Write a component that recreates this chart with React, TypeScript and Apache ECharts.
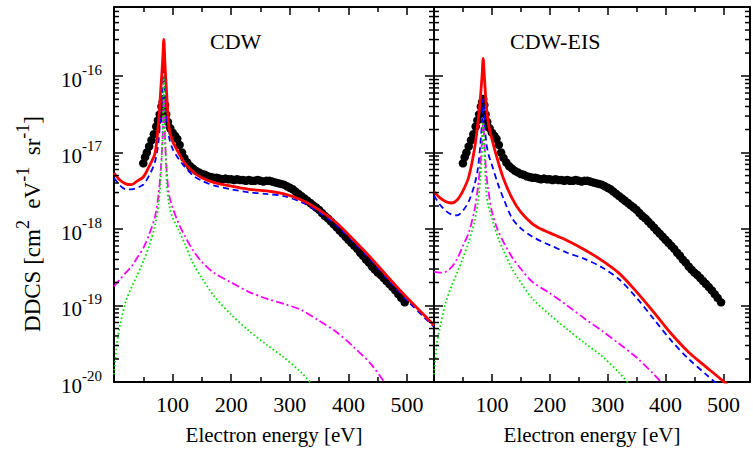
import React, { useEffect, useRef } from "react";
import * as echarts from "echarts";

const FONT = "Liberation Serif";

// ---------- data (electron energy in eV, DDCS in cm^2 eV^-1 sr^-1) ----------
const expEnergy = [50, 53, 56, 60, 64, 68, 72, 75, 78, 81, 83, 85, 87, 89, 92, 96, 100, 104, 108, 112, 116, 120, 125, 130, 135, 140, 145, 150, 155, 160, 165, 170, 175, 180, 185, 190, 195, 200, 205, 210, 215, 220, 225, 230, 235, 240, 245, 250, 255, 260, 265, 270, 275, 280, 285, 290, 295, 300, 305, 310, 315, 320, 325, 330, 335, 340, 345, 350, 355, 360, 365, 370, 375, 380, 385, 390, 395, 400, 405, 410, 415, 420, 425, 430, 435, 440, 445, 450, 455, 460, 465, 470, 475, 480, 485, 490, 496];
const expValues = [7.24e-18, 8.71e-18, 1.0e-17, 1.2e-17, 1.45e-17, 1.74e-17, 2.19e-17, 2.63e-17, 3.16e-17, 3.98e-17, 4.57e-17, 5.01e-17, 4.17e-17, 3.16e-17, 2.51e-17, 2.09e-17, 1.82e-17, 1.66e-17, 1.51e-17, 1.26e-17, 1.0e-17, 8.51e-18, 7.41e-18, 6.61e-18, 6.17e-18, 5.75e-18, 5.5e-18, 5.25e-18, 5.13e-18, 4.9e-18, 4.79e-18, 4.68e-18, 4.68e-18, 4.57e-18, 4.47e-18, 4.57e-18, 4.47e-18, 4.47e-18, 4.37e-18, 4.47e-18, 4.37e-18, 4.37e-18, 4.27e-18, 4.37e-18, 4.27e-18, 4.27e-18, 4.37e-18, 4.27e-18, 4.17e-18, 4.27e-18, 4.27e-18, 4.17e-18, 4.07e-18, 3.98e-18, 3.89e-18, 3.8e-18, 3.63e-18, 3.47e-18, 3.31e-18, 3.09e-18, 2.88e-18, 2.69e-18, 2.51e-18, 2.34e-18, 2.19e-18, 2.04e-18, 1.91e-18, 1.78e-18, 1.62e-18, 1.48e-18, 1.38e-18, 1.26e-18, 1.15e-18, 1.05e-18, 9.55e-19, 8.71e-19, 7.94e-19, 7.24e-19, 6.61e-19, 6.03e-19, 5.5e-19, 4.9e-19, 4.47e-19, 3.98e-19, 3.63e-19, 3.24e-19, 2.95e-19, 2.69e-19, 2.51e-19, 2.29e-19, 2.09e-19, 1.91e-19, 1.74e-19, 1.58e-19, 1.41e-19, 1.26e-19, 1.1e-19];

const theoryEnergy = [0, 10, 20, 30, 40, 50, 60, 70, 76, 80, 83, 85, 87, 90, 94, 100, 110, 120, 135, 150, 170, 200, 230, 260, 290, 320, 350, 380, 410, 440, 470, 500, 530, 546];

// CDW panel
const cdwTotal = [5.37e-18, 4.37e-18, 3.89e-18, 3.8e-18, 4.27e-18, 4.79e-18, 6.61e-18, 9.77e-18, 2.51e-17, 7.08e-17, 1.58e-16, 3.02e-16, 1.41e-16, 5.62e-17, 2.09e-17, 1.41e-17, 1.0e-17, 7.41e-18, 5.62e-18, 4.68e-18, 4.07e-18, 3.63e-18, 3.31e-18, 3.16e-18, 2.88e-18, 2.4e-18, 1.78e-18, 1.2e-18, 7.08e-19, 4.07e-19, 2.24e-19, 1.26e-19, 7.41e-20, 5.5e-20];
const cdwMain = [4.68e-18, 3.72e-18, 3.31e-18, 3.31e-18, 3.47e-18, 3.8e-18, 5.01e-18, 7.59e-18, 1.41e-17, 3.55e-17, 7.08e-17, 1.41e-16, 6.31e-17, 2.82e-17, 1.58e-17, 1.12e-17, 8.32e-18, 6.61e-18, 5.01e-18, 4.27e-18, 3.72e-18, 3.31e-18, 3.02e-18, 2.88e-18, 2.69e-18, 2.24e-18, 1.66e-18, 1.12e-18, 6.61e-19, 3.8e-19, 2.09e-19, 1.17e-19, 6.92e-20, 5.25e-20];
const cdwSecondEnergy = [0, 10, 20, 30, 40, 50, 60, 70, 76, 80, 83, 85, 87, 90, 94, 100, 110, 120, 135, 150, 170, 200, 230, 260, 290, 320, 350, 380, 410, 440, 470];
const cdwSecond = [1.78e-19, 2.19e-19, 2.69e-19, 3.24e-19, 4.27e-19, 5.62e-19, 8.51e-19, 1.45e-18, 2.82e-18, 6.31e-18, 1.58e-17, 5.62e-17, 1.58e-17, 5.62e-18, 2.82e-18, 1.91e-18, 1.2e-18, 8.32e-19, 5.25e-19, 3.72e-19, 2.69e-19, 2.0e-19, 1.51e-19, 1.23e-19, 1.05e-19, 8.71e-20, 6.31e-20, 4.47e-20, 2.82e-20, 1.66e-20, 7.94e-21];
const cdwThirdEnergy = [0, 5, 10, 20, 30, 40, 50, 60, 70, 76, 80, 83, 85, 87, 90, 94, 100, 110, 120, 135, 150, 170, 200, 230, 260, 290, 320, 340];
const cdwThird = [1.26e-20, 3.16e-20, 5.37e-20, 1.12e-19, 1.74e-19, 2.51e-19, 3.8e-19, 6.03e-19, 1.12e-18, 2.09e-18, 5.01e-18, 2.0e-17, 1.0e-16, 2.0e-17, 3.98e-18, 2.09e-18, 1.41e-18, 9.77e-19, 6.61e-19, 3.55e-19, 2.29e-19, 1.35e-19, 7.59e-20, 4.68e-20, 3.09e-20, 2.09e-20, 1.32e-20, 8.91e-21];

// CDW-EIS panel
const eisEnergy = [0, 10, 20, 30, 40, 50, 60, 70, 76, 80, 83, 85, 87, 90, 94, 100, 110, 120, 135, 150, 170, 185, 200, 230, 260, 290, 320, 350, 380, 410, 440, 470, 500, 530, 546];
const eisTotal = [3.09e-18, 2.57e-18, 2.29e-18, 2.19e-18, 2.4e-18, 3.16e-18, 4.79e-18, 1.12e-17, 2.51e-17, 5.01e-17, 1.0e-16, 1.7e-16, 1.0e-16, 4.47e-17, 2.4e-17, 1.51e-17, 7.94e-18, 4.57e-18, 2.51e-18, 1.66e-18, 1.17e-18, 1.0e-18, 8.91e-19, 7.08e-19, 5.37e-19, 3.89e-19, 2.63e-19, 1.51e-19, 8.13e-20, 4.27e-20, 2.45e-20, 1.58e-20, 1.02e-20, 6.31e-21, 5.0e-21];
const eisMain = [2.75e-18, 2.09e-18, 1.74e-18, 1.55e-18, 1.51e-18, 1.74e-18, 2.29e-18, 3.8e-18, 6.31e-18, 1.26e-17, 2.51e-17, 5.01e-17, 2.82e-17, 1.41e-17, 9.55e-18, 6.92e-18, 3.98e-18, 2.51e-18, 1.38e-18, 1.02e-18, 7.94e-19, 6.92e-19, 6.17e-19, 4.9e-19, 4.07e-19, 3.16e-19, 2.19e-19, 1.26e-19, 6.61e-20, 3.47e-20, 2.0e-20, 1.26e-20, 7.94e-21, 5.0e-21, 4.0e-21];
const eisSecondEnergy = [0, 10, 20, 30, 40, 50, 60, 70, 76, 80, 83, 85, 87, 90, 94, 100, 110, 120, 135, 150, 170, 200, 230, 260, 290, 320, 350, 380, 400];
const eisSecond = [2.75e-19, 2.69e-19, 2.75e-19, 3.16e-19, 4.07e-19, 6.03e-19, 8.91e-19, 1.78e-18, 3.55e-18, 7.08e-18, 1.41e-17, 2.51e-17, 1.41e-17, 5.62e-18, 3.16e-18, 1.7e-18, 9.77e-19, 6.76e-19, 4.27e-19, 3.02e-19, 2.04e-19, 1.45e-19, 1.0e-19, 6.76e-20, 4.68e-20, 3.16e-20, 2.09e-20, 1.26e-20, 8.51e-21];
const eisThirdEnergy = [0, 5, 10, 20, 30, 40, 50, 60, 70, 76, 80, 83, 85, 87, 90, 94, 100, 110, 120, 135, 150, 170, 200, 230, 260, 290, 320, 340];
const eisThird = [1.26e-20, 3.16e-20, 5.01e-20, 1.07e-19, 1.78e-19, 2.69e-19, 4.17e-19, 6.76e-19, 1.26e-18, 2.24e-18, 4.47e-18, 1.12e-17, 2.51e-17, 1.12e-17, 3.16e-18, 2.0e-18, 1.38e-18, 7.94e-19, 5.25e-19, 3.02e-19, 2.0e-19, 1.23e-19, 7.59e-20, 4.9e-20, 3.24e-20, 2.19e-20, 1.32e-20, 8.91e-21];

const panelTitles = ["CDW", "CDW-EIS"];
const xAxisTitle = "Electron energy [eV]";
const xMin = 0;
const xMax = 546;
const yMin = 1e-20;
const yMax = 8e-16;
const minorMantissas = [2, 3, 4, 5, 6, 7, 8, 9];
const decades = [-20, -19, -18, -17, -16];

function zip(xs: number[], ys: number[]) {
  return xs.map((x, i) => [x, ys[i]]);
}

export default function App() {
  const ref = useRef<HTMLDivElement>(null);

  useEffect(() => {
    if (!ref.current) return;
    const chart = echarts.init(ref.current, null, { renderer: "svg" });

    const minorTicks: number[][] = [];
    decades.forEach((d) =>
      minorMantissas.forEach((m) => {
        const v = m * Math.pow(10, d);
        if (v < yMax) minorTicks.push([xMin, v]);
      })
    );

    const grids = [
      { left: 114, top: 7, width: 320, height: 375 },
      { left: 434, top: 7, width: 320, height: 375 },
    ];

    const tickStyle = { color: "#000", width: 1.5 };
    const axisLineStyle = { color: "#000", width: 2 };

    const xAxes: any[] = [];
    const yAxes: any[] = [];
    [0, 1].forEach((g) => {
      const base = {
        type: "value",
        gridIndex: g,
        min: xMin,
        max: xMax,
        interval: 100,
        splitLine: { show: false },
        axisLine: { show: true, onZero: false, lineStyle: axisLineStyle },
        axisTick: { show: true, inside: true, length: 8, lineStyle: tickStyle },
        minorTick: { show: true, splitNumber: 2, length: 5, lineStyle: tickStyle },
      };
      xAxes.push({
        ...base,
        position: "bottom",
        name: xAxisTitle,
        nameLocation: "middle",
        nameGap: 42,
        nameTextStyle: { fontFamily: FONT, fontSize: 21, color: "#000" },
        axisLabel: {
          show: true,
          margin: 11,
          fontFamily: FONT,
          fontSize: 22,
          color: "#000",
          formatter: (v: number) => (v > 0 && v % 100 === 0 ? String(v) : ""),
        },
      });
      xAxes.push({ ...base, position: "top", axisLabel: { show: false } });

      const ybase = {
        type: "log",
        logBase: 10,
        gridIndex: g,
        min: yMin,
        max: yMax,
        splitLine: { show: false },
        axisLine: { show: true, onZero: false, lineStyle: axisLineStyle },
        axisTick: { show: true, inside: true, length: 9, lineStyle: tickStyle },
        minorTick: { show: false },
      };
      yAxes.push({
        ...ybase,
        position: "left",
        axisLabel: {
          show: g === 0,
          margin: 12,
          formatter: (v: number) => {
            const l = Math.log10(v);
            const e = Math.round(l);
            if (Math.abs(l - e) > 1e-6) return "";
            return `{b|10}{s|${e}}`;
          },
          rich: {
            b: { fontFamily: FONT, fontSize: 21, color: "#000", verticalAlign: "bottom", lineHeight: 28 },
            s: { fontFamily: FONT, fontSize: 15, color: "#000", verticalAlign: "top", lineHeight: 28 },
          },
        },
      });
      yAxes.push({ ...ybase, position: "right", axisLabel: { show: false } });
    });

    const lineSeries = (
      name: string,
      g: number,
      data: number[][],
      color: string,
      width: number,
      type: any,
      z: number
    ) => ({
      name,
      type: "line",
      xAxisIndex: g * 2,
      yAxisIndex: g * 2,
      data,
      showSymbol: false,
      symbol: "none",
      smooth: 0.3,
      clip: true,
      z,
      lineStyle: { color, width, type, cap: "butt" },
      emphasis: { disabled: true },
    });

    const series: any[] = [];
    const panels = [
      { E: theoryEnergy, total: cdwTotal, main: cdwMain, secE: cdwSecondEnergy, sec: cdwSecond, thE: cdwThirdEnergy, th: cdwThird },
      { E: eisEnergy, total: eisTotal, main: eisMain, secE: eisSecondEnergy, sec: eisSecond, thE: eisThirdEnergy, th: eisThird },
    ];
    panels.forEach((p, g) => {
      series.push({
        name: "experiment",
        type: "scatter",
        xAxisIndex: g * 2,
        yAxisIndex: g * 2,
        data: zip(expEnergy, expValues),
        symbol: "circle",
        symbolSize: 8.5,
        itemStyle: { color: "#000", opacity: 1 },
        z: 2,
        clip: true,
        emphasis: { disabled: true },
      });
      series.push(lineSeries("main", g, zip(p.E, p.main), "#0000ff", 1.8, [6, 4], 3));
      series.push(lineSeries("total", g, zip(p.E, p.total), "#ff0000", 2.8, "solid", 4));
      series.push(lineSeries("second", g, zip(p.secE, p.sec), "#ff00ff", 1.8, [8, 3, 2, 3], 5));
      series.push(lineSeries("third", g, zip(p.thE, p.th), "#00e000", 1.8, [1.6, 2.4], 6));
      series.push({
        type: "custom",
        xAxisIndex: g * 2,
        yAxisIndex: g * 2,
        data: minorTicks,
        silent: true,
        clip: false,
        z: 10,
        encode: { x: 0, y: 1 },
        renderItem: (params: any, api: any) => {
          const v = api.value(1);
          const l = api.coord([xMin, v]);
          const r = api.coord([xMax, v]);
          return {
            type: "group",
            children: [
              { type: "line", shape: { x1: l[0], y1: l[1], x2: l[0] + 5, y2: l[1] }, style: { stroke: "#000", lineWidth: 1.5 } },
              { type: "line", shape: { x1: r[0] - 5, y1: r[1], x2: r[0], y2: r[1] }, style: { stroke: "#000", lineWidth: 1.5 } },
            ],
          };
        },
      });
    });

    const option: any = {
      animation: false,
      backgroundColor: "#fff",
      textStyle: { fontFamily: FONT },
      grid: grids,
      xAxis: xAxes,
      yAxis: yAxes,
      series,
      graphic: [
        {
          type: "text",
          x: 29,
          y: 224,
          rotation: Math.PI / 2,
          style: {
            text: "{a|DDCS [cm}{s|2}{a|  eV}{s|-1}{a|  sr}{s|-1}{a|]}",
            align: "center",
            verticalAlign: "middle",
            rich: {
              a: { fontFamily: FONT, fontSize: 23, fill: "#000", verticalAlign: "bottom", lineHeight: 30 },
              s: { fontFamily: FONT, fontSize: 18, fill: "#000", verticalAlign: "top", lineHeight: 30 },
            },
          },
        },
        {
          type: "text",
          x: 210,
          y: 41,
          style: { text: panelTitles[0], font: `22px ${FONT}`, fill: "#000", verticalAlign: "middle" },
        },
        {
          type: "text",
          x: 510,
          y: 41,
          style: { text: panelTitles[1], font: `22px ${FONT}`, fill: "#000", verticalAlign: "middle" },
        },
      ],
    };
    chart.setOption(option);
    return () => chart.dispose();
  }, []);

  return (
    <div
      ref={ref}
      style={{ position: "fixed", left: 0, top: 0, width: 753, height: 453, background: "#fff" }}
    />
  );
}
